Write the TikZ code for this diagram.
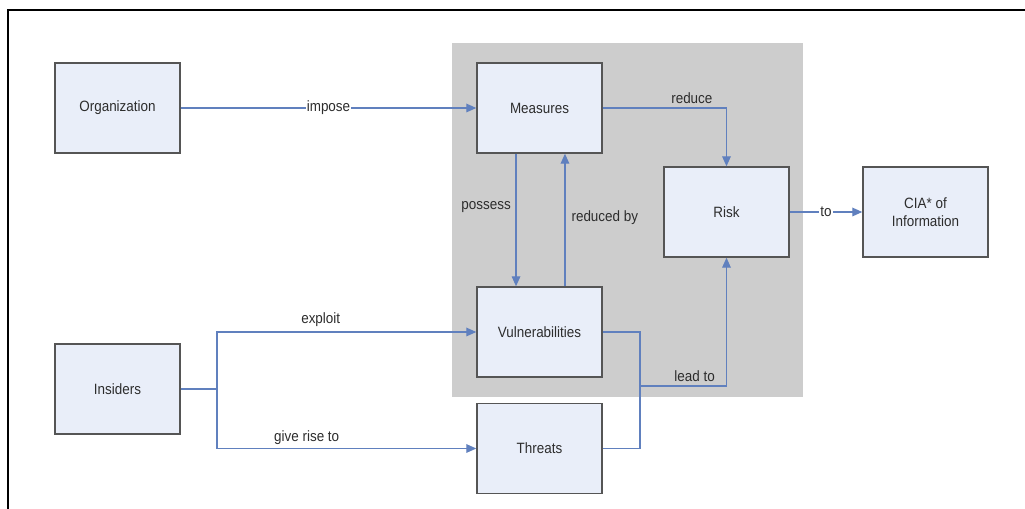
\documentclass[tikz,border=0pt]{standalone}
\usepackage{fontspec}
\setmainfont{Liberation Sans}[FakeStretch=0.9]
\usetikzlibrary{arrows.meta,calc}

\definecolor{boxfill}{RGB}{233,238,249}
\definecolor{boxline}{RGB}{85,85,85}
\definecolor{zone}{RGB}{205,205,205}
\definecolor{link}{RGB}{96,128,190}
\definecolor{ink}{RGB}{45,45,45}

\tikzset{
  box/.style={draw=boxline, fill=boxfill, line width=1.1pt,
    minimum width=93.75pt, minimum height=67.5pt, inner sep=2pt,
    text=ink, align=center, font=\fontsize{11.2}{13.5}\selectfont},
  wire/.style={draw=link, line width=0.9pt},
  conn/.style={wire, -{Triangle[length=7.5pt,width=6.5pt]}},
  lbl/.style={text=ink, font=\fontsize{11.2}{13.5}\selectfont, inner sep=1.5pt},
  onlbl/.style={lbl, fill=white, inner sep=1pt},
}

\begin{document}
\begin{tikzpicture}[x=0.75pt,y=-0.75pt]
  \useasboundingbox (0,0) rectangle (1025,509);

  % frame edges
  \draw[black, line width=2pt] (8,509) -- (8,10) -- (1025,10);

  % shaded zone behind the core concepts
  \fill[zone] (452,43) rectangle (803,397);

  % concept boxes
  \node[box] (org)  at (117.5,108)   {Organization};
  \node[box] (meas) at (539.5,108)   {Measures};
  \node[box] (risk) at (726.5,212)   {Risk};
  \node[box] (cia)  at (925.5,212)   {CIA* of\\Information};
  \node[box] (vul)  at (539.5,332)   {Vulnerabilities};
  \node[box] (thr)  at (539.5,448.5) {Threats};
  \node[box] (ins)  at (117.5,389)   {Insiders};

  % junction points
  \coordinate (ij) at (217,389);
  \coordinate (vj) at (640,386);

  % relations
  \draw[conn] (org) -- node[onlbl] {impose} (meas);
  \draw[conn] (meas.east) -| node[lbl, pos=0.36, above=1pt] {reduce} (risk.north);
  \draw[conn] ([xshift=-17.6pt]meas.south) -- node[lbl, pos=0.40, left=2pt] {possess} ([xshift=-17.6pt]vul.north);
  \draw[conn] ([xshift=19.1pt]vul.north) -- node[lbl, pos=0.52, right=3pt] {reduced by} ([xshift=19.1pt]meas.south);
  \draw[conn] (risk) -- node[onlbl] {to} (cia);

  \draw[wire] (ins.east) -- (ij);
  \draw[conn] (ij) |- node[lbl, pos=0.70, above=2pt] {exploit} (vul.west);
  \draw[conn] (ij) |- node[lbl, pos=0.673, above=1pt] {give rise to} (thr.west);

  \draw[wire] (vul.east) -| (vj);
  \draw[wire] (thr.east) -| (vj);
  \draw[conn] (vj) -| node[lbl, pos=0.316, above=1pt] {lead to} (risk.south);
\end{tikzpicture}
\end{document}
